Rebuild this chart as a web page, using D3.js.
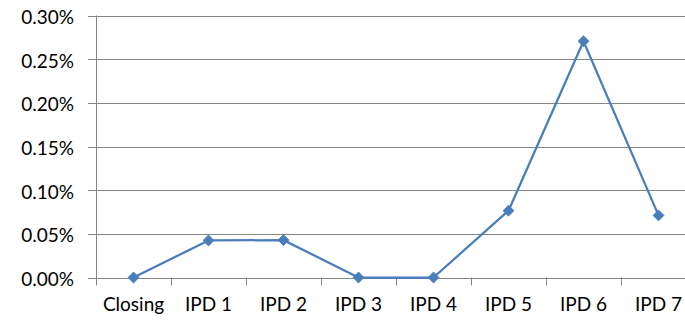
<!DOCTYPE html>
<html>
<head>
<meta charset="utf-8">
<script src="https://cdn.jsdelivr.net/npm/d3@7"></script>
<style>
  html, body { margin: 0; padding: 0; background: #fff; }
  svg { display: block; }
  text { font-family: Lato, "Open Sans", sans-serif; font-size: 19px; fill: #000; }
</style>
</head>
<body>
<svg id="chart" width="685" height="320"></svg>
<script>
// Periods along the x axis
const categories = ["Closing", "IPD 1", "IPD 2", "IPD 3", "IPD 4", "IPD 5", "IPD 6", "IPD 7"];
// Rate per period, in percent
const values = [0.0, 0.0424, 0.0428, 0.0, 0.0, 0.0765, 0.2705, 0.0711];
// Y axis ticks, in percent
const yTicks = [0, 0.05, 0.10, 0.15, 0.20, 0.25, 0.30];

const svg = d3.select("#chart");
const plotLeft = 96, plotRight = 696, plotTop = 15.5, plotBottom = 277.5;
const grid = "#868686";
const blue = "#4a7ebb";

const x = d3.scaleBand().domain(categories).range([plotLeft, plotRight]);
const y = d3.scaleLinear().domain([0, 0.30]).range([plotBottom, plotTop]);

// Horizontal gridlines with outward ticks
svg.append("g").selectAll("line").data(yTicks).join("line")
  .attr("x1", plotLeft - 8).attr("x2", 685)
  .attr("y1", d => Math.round(y(d)) + 0.5).attr("y2", d => Math.round(y(d)) + 0.5)
  .attr("stroke", grid).attr("stroke-width", 1);

// Y axis labels
svg.append("g").selectAll("text").data(yTicks).join("text")
  .attr("x", 74).attr("y", d => y(d) + 1)
  .attr("text-anchor", "end").attr("dominant-baseline", "central")
  .text(d => d3.format(".2f")(d) + "%");

// Vertical axis line
svg.append("line")
  .attr("x1", plotLeft + 0.5).attr("x2", plotLeft + 0.5)
  .attr("y1", plotTop).attr("y2", plotBottom + 8)
  .attr("stroke", grid).attr("stroke-width", 1);

// Category boundary ticks below the x axis
const bounds = categories.map(c => x(c)).concat([plotRight]).slice(1);
svg.append("g").selectAll("line").data(bounds).join("line")
  .attr("x1", d => Math.round(d) + 0.5).attr("x2", d => Math.round(d) + 0.5)
  .attr("y1", plotBottom).attr("y2", plotBottom + 8)
  .attr("stroke", grid).attr("stroke-width", 1);

// X axis labels
svg.append("g").selectAll("text").data(categories).join("text")
  .attr("x", d => x(d) + x.bandwidth() / 2).attr("y", 303)
  .attr("text-anchor", "middle").attr("dominant-baseline", "central")
  .text(d => d);

// Series line
const pts = categories.map((c, i) => [x(c) + x.bandwidth() / 2, y(values[i])]);
svg.append("path")
  .attr("d", d3.line()(pts))
  .attr("fill", "none").attr("stroke", blue).attr("stroke-width", 2.25)
  .attr("stroke-linejoin", "round");

// Diamond markers
svg.append("g").selectAll("path").data(pts).join("path")
  .attr("transform", d => `translate(${d[0]},${d[1]})`)
  .attr("d", d3.symbol(d3.symbolDiamond2, 75)())
  .attr("fill", blue).attr("stroke", blue).attr("stroke-width", 1);
</script>
</body>
</html>
